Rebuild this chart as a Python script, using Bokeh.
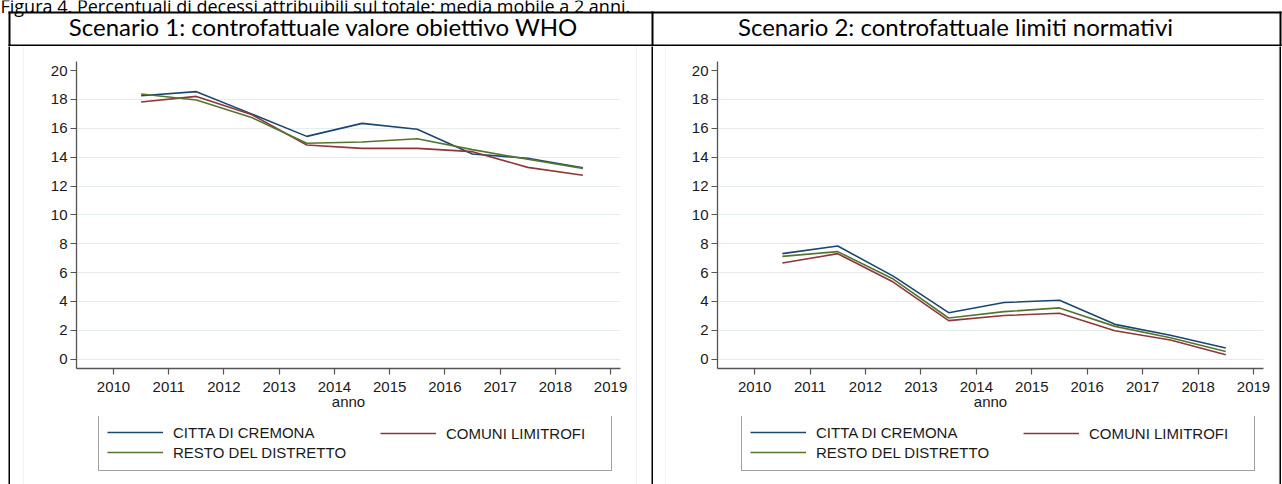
from bokeh.plotting import figure
from bokeh.models import Range1d, FixedTicker, Legend, LegendItem
from bokeh.layouts import row, column
from bokeh.embed import file_html
from bokeh.resources import INLINE
from bokeh.core.properties import value

# ---------------- data ----------------
years = [2010.5, 2011.5, 2012.5, 2013.5, 2014.5, 2015.5, 2016.5, 2017.5, 2018.5]

s1_cremona = [18.26, 18.54, 17.00, 15.44, 16.34, 15.93, 14.22, 13.92, 13.27]
s1_limitrofi = [17.82, 18.21, 16.95, 14.84, 14.61, 14.61, 14.38, 13.29, 12.74]
s1_resto = [18.38, 17.96, 16.75, 14.96, 15.05, 15.28, 14.52, 13.85, 13.22]

s2_cremona = [7.31, 7.84, 5.75, 3.22, 3.92, 4.08, 2.41, 1.65, 0.77]
s2_limitrofi = [6.66, 7.31, 5.34, 2.67, 3.02, 3.18, 1.97, 1.32, 0.30]
s2_resto = [7.12, 7.45, 5.55, 2.85, 3.29, 3.55, 2.27, 1.48, 0.53]

x_ticks = [2010, 2011, 2012, 2013, 2014, 2015, 2016, 2017, 2018, 2019]
y_ticks = [0, 2, 4, 6, 8, 10, 12, 14, 16, 18, 20]
y_grid = [0, 2, 4, 6, 8, 10, 12, 14, 16, 18]

series_names = ["CITTA DI CREMONA", "COMUNI LIMITROFI", "RESTO DEL DISTRETTO"]
series_colors = ["#1a476f", "#90353b", "#55752f"]

panel_titles = ["Scenario 1: controfattuale valore obiettivo WHO",
                "Scenario 2: controfattuale limiti normativi"]
caption = "Figura 4. Percentuali di decessi attribuibili sul totale: media mobile a 2 anni."
x_label = "anno"

# ---------------- styling / layout constants ----------------
BODY_H = 438
PLOT_H = 370
LEG_H = BODY_H - PLOT_H
FAINT = "#e3eaec"
GRID = "#e6edef"
AXIS = "#555555"
FONT = "Liberation Sans"
TXT = "#1a1a1a"


def strip(w, color, h=BODY_H):
    return figure(width=w, height=h, toolbar_location=None, output_backend="svg",
                  min_border=0, x_axis_type=None, y_axis_type=None,
                  background_fill_color=color, border_fill_color=color,
                  outline_line_color=None)


def panel(width, mb_left, mb_right, series):
    p = figure(width=width, height=PLOT_H,
               x_range=Range1d(2009.33, 2019.18), y_range=Range1d(-0.65, 20.63),
               output_backend="svg", toolbar_location=None,
               min_border_left=mb_left, min_border_right=mb_right,
               min_border_top=15, min_border_bottom=PLOT_H - 15 - 307,
               outline_line_color=None, background_fill_color="white",
               border_fill_color="white")
    for vals, col in zip(series, series_colors):
        p.line(years, vals, line_color=col, line_width=1.6)

    p.xaxis.ticker = FixedTicker(ticks=x_ticks)
    p.yaxis.ticker = FixedTicker(ticks=y_ticks)
    for ax in (p.xaxis[0], p.yaxis[0]):
        ax.axis_line_color = AXIS
        ax.axis_line_width = 1.3
        ax.major_tick_line_color = AXIS
        ax.major_tick_line_width = 1.2
        ax.major_tick_out = 6
        ax.major_tick_in = 0
        ax.minor_tick_line_color = None
        ax.major_label_text_font = FONT
        ax.major_label_text_font_size = "15px"
        ax.major_label_text_color = TXT
    p.yaxis.major_label_standoff = 3
    p.xaxis.major_label_standoff = 7
    p.xaxis.axis_label = x_label
    p.xaxis.axis_label_text_font = FONT
    p.xaxis.axis_label_text_font_size = "15px"
    p.xaxis.axis_label_text_font_style = "normal"
    p.xaxis.axis_label_text_color = TXT
    p.xaxis.axis_label_standoff = -2

    p.xgrid.visible = False
    p.ygrid.ticker = FixedTicker(ticks=y_grid)
    p.ygrid.grid_line_color = GRID
    p.ygrid.grid_line_width = 1.2
    return p


def legend_panel(width, vx, series):
    # the legend strip's frame is aligned with the chart frame above it;
    # the series lines lie outside its ranges, only their legend samples show
    f = figure(width=width, height=LEG_H, x_range=Range1d(0, 1), y_range=Range1d(0, 1),
               output_backend="svg", toolbar_location=None, min_border=0,
               x_axis_type=None, y_axis_type=None, outline_line_color=None,
               background_fill_color="white", border_fill_color="white")
    rs = [f.line(years, vals, line_color=c, line_width=1.6)
          for vals, c in zip(series, series_colors)]
    common = dict(glyph_width=56, glyph_height=20, label_height=20,
                  label_standoff=10, padding=8, spacing=0, margin=0,
                  label_text_font=FONT, label_text_font_size="15px",
                  label_text_color=TXT)
    leg_a = Legend(items=[LegendItem(label=series_names[0], renderers=[rs[0]]),
                          LegendItem(label=series_names[2], renderers=[rs[2]])],
                   location=(vx, 13), label_width=430,
                   border_line_color="#444444", border_line_width=1,
                   background_fill_color="white", background_fill_alpha=1.0,
                   **common)
    leg_b = Legend(items=[LegendItem(label=series_names[1], renderers=[rs[1]])],
                   location=(vx + 282, 41), label_width=140,
                   border_line_color=None, background_fill_alpha=0.0,
                   **common)
    f.add_layout(leg_a)
    f.add_layout(leg_b)
    return f


s1 = [s1_cremona, s1_limitrofi, s1_resto]
s2 = [s2_cremona, s2_limitrofi, s2_resto]
left = column(panel(612, 52, 16, s1), legend_panel(612, 22, s1))
right = column(panel(612, 51, 15, s2), legend_panel(612, 24, s2))

# header row: table borders, caption and column titles (page pixel coordinates)
hdr = figure(width=1282, height=46, x_range=Range1d(0, 1282), y_range=Range1d(46, 0),
             output_backend="svg", toolbar_location=None, min_border=0,
             x_axis_type=None, y_axis_type=None, outline_line_color=None,
             background_fill_color="white", border_fill_color="white")
hdr.quad(left=[8, 8, 8, 651, 1279], right=[1281, 1281, 10, 653, 1281],
         top=[11, 44, 11, 11, 11], bottom=[13, 46, 46, 46, 46],
         fill_color="black", line_color=None)
hdr.text(x=[323, 955], y=[26, 26], text=panel_titles,
         text_align="center", text_baseline="middle",
         text_font=value("Lato"), text_font_size="24px", text_color="black")
hdr.text(x=[0], y=[5], text=[caption], text_align="left", text_baseline="alphabetic",
         text_font=value("Open Sans"), text_font_size="18px", text_color="black")

body = row(strip(8, "white"), strip(2, "black"), strip(13, "white"), strip(1, FAINT), left,
           strip(1, FAINT), strip(14, "white"), strip(2, "black"), strip(12, "white"),
           strip(1, FAINT), right, strip(1, FAINT), strip(2, "black"), strip(1, "white"))
page = column(hdr, body)

open("out.html", "w").write(file_html(page, INLINE))
